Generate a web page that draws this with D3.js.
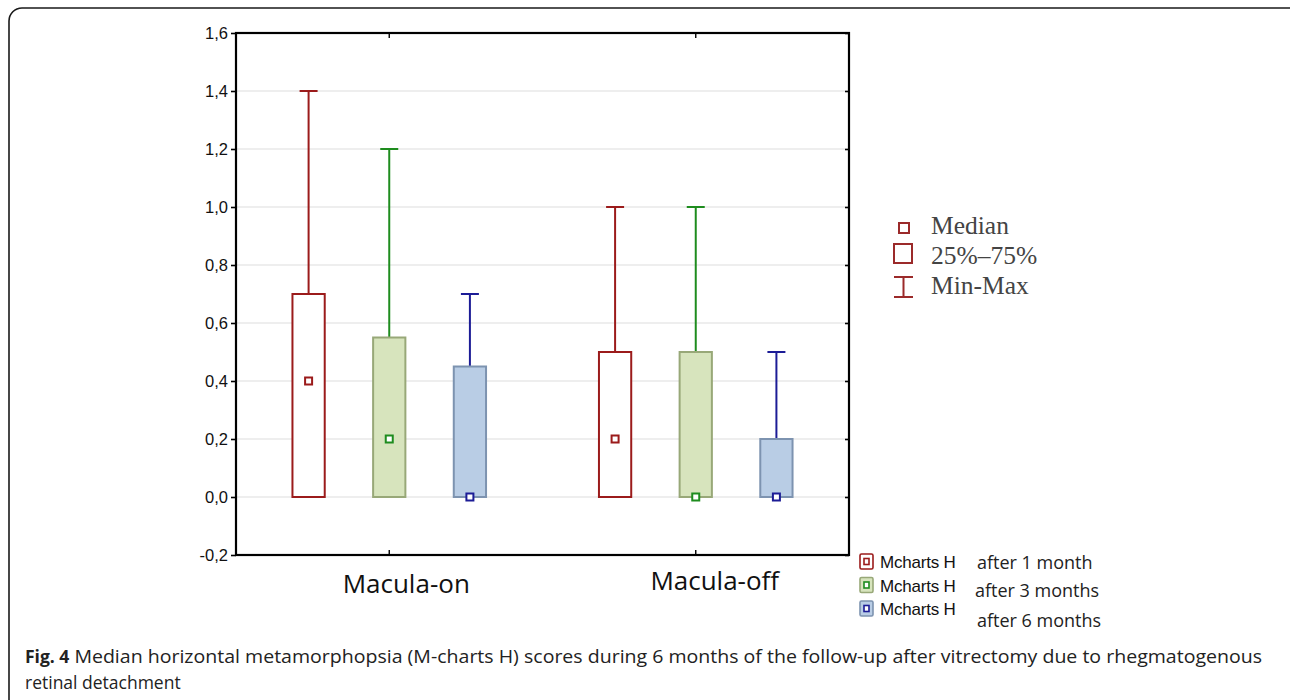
<!DOCTYPE html>
<html>
<head>
<meta charset="utf-8">
<script src="https://cdn.jsdelivr.net/npm/d3@7"></script>
<style>
  html, body { margin: 0; padding: 0; background: #fff; }
  svg { display: block; }
</style>
</head>
<body>
<svg id="chart" width="1290" height="700"></svg>
<script>
// Groups on the x axis and follow-up series drawn inside each group
const groups = ["Macula-on", "Macula-off"];
const seriesNames = ["after 1 month", "after 3 months", "after 6 months"];

// Box statistics per group, one entry per series: [min, q1, median, q3, max]
const maculaOn = [
  [0, 0, 0.4, 0.7, 1.4],
  [0, 0, 0.2, 0.55, 1.2],
  [0, 0, 0.0, 0.45, 0.7]
];
const maculaOff = [
  [0, 0, 0.2, 0.5, 1.0],
  [0, 0, 0.0, 0.5, 1.0],
  [0, 0, 0.0, 0.2, 0.5]
];
const yTicks = [-0.2, 0, 0.2, 0.4, 0.6, 0.8, 1.0, 1.2, 1.4, 1.6];
const statLabels = ["Median", "25%\u201375%", "Min-Max"];

const seriesStyle = [
  { fill: "#ffffff", stroke: "#9b1b1b", whisker: "#9b1b1b", median: "#9b1b1b" },
  { fill: "#d7e4bd", stroke: "#98a878", whisker: "#1e8c1e", median: "#1e8c1e" },
  { fill: "#b9cde5", stroke: "#7d93b0", whisker: "#1c1c96", median: "#1c1c96" }
];

const svg = d3.select("#chart");

// Rounded panel outline around the figure
svg.append("rect")
  .attr("x", 9).attr("y", 8).attr("width", 1300).attr("height", 720)
  .attr("rx", 13).attr("fill", "none").attr("stroke", "#1a1a1a").attr("stroke-width", 1.6);

const plot = { left: 236, right: 849, top: 33, bottom: 555 };

const x = d3.scaleBand().domain(groups).range([plot.left, plot.right]).padding(0);
const xs = d3.scaleBand().domain(seriesNames).range([0, x.bandwidth()]).paddingInner(0.6).paddingOuter(0.7);
const y = d3.scaleLinear().domain([-0.2, 1.6]).range([plot.bottom, plot.top]);
const fmt = v => d3.format(".1f")(v).replace(".", ",").replace("\u2212", "-");

// Horizontal grid
svg.append("g").selectAll("line").data(yTicks.filter(v => v > -0.2 && v < 1.6)).join("line")
  .attr("x1", plot.left).attr("x2", plot.right)
  .attr("y1", d => y(d)).attr("y2", d => y(d))
  .attr("stroke", "#dddddd").attr("stroke-width", 1.2);

// Left axis, ticks outward
const yAxis = d3.axisLeft(y).tickValues(yTicks).tickSize(5).tickPadding(3).tickFormat(fmt);
const gy = svg.append("g").attr("transform", `translate(${plot.left},0)`).call(yAxis);
gy.attr("font-size", null).attr("font-family", null);
gy.select(".domain").remove();
gy.selectAll(".tick line").attr("stroke", "#000").attr("stroke-width", 1.6);
gy.selectAll(".tick text")
  .style("font-family", "'Liberation Sans', Arial, sans-serif")
  .style("font-size", "16.5px").attr("fill", "#111").attr("dy", "0.35em");

// Right axis, ticks inward
const yAxisR = d3.axisRight(y).tickValues(yTicks).tickSize(-4).tickFormat("");
const gyr = svg.append("g").attr("transform", `translate(${plot.right},0)`).call(yAxisR);
gyr.select(".domain").remove();
gyr.selectAll(".tick line").attr("stroke", "#000").attr("stroke-width", 1.6);

// Bottom and top axes with inward ticks at group centres
const xAxisB = d3.axisBottom(x).tickSize(-5).tickFormat("");
const gxb = svg.append("g").attr("transform", `translate(0,${plot.bottom})`).call(xAxisB);
gxb.select(".domain").remove();
gxb.selectAll(".tick line").attr("stroke", "#000").attr("stroke-width", 1.4);
const xAxisT = d3.axisTop(x).tickSize(-5).tickFormat("");
const gxt = svg.append("g").attr("transform", `translate(0,${plot.top})`).call(xAxisT);
gxt.select(".domain").remove();
gxt.selectAll(".tick line").attr("stroke", "#000").attr("stroke-width", 1.4);

// Plot frame
svg.append("rect")
  .attr("x", plot.left).attr("y", plot.top)
  .attr("width", plot.right - plot.left).attr("height", plot.bottom - plot.top)
  .attr("fill", "none").attr("stroke", "#000").attr("stroke-width", 2.2);

// Boxes
const boxW = xs.bandwidth();
const capW = 18;
const groupStats = { "Macula-on": maculaOn, "Macula-off": maculaOff };

groups.forEach(g => {
  groupStats[g].forEach((s, i) => {
    const [mn, q1, med, q3, mx] = s;
    const st = seriesStyle[i];
    const x0 = x(g) + xs(seriesNames[i]);
    const cx = x0 + boxW / 2;
    const gg = svg.append("g");
    // whisker to max with cap
    gg.append("line").attr("x1", cx).attr("x2", cx).attr("y1", y(q3)).attr("y2", y(mx))
      .attr("stroke", st.whisker).attr("stroke-width", 2);
    gg.append("line").attr("x1", cx - capW / 2).attr("x2", cx + capW / 2).attr("y1", y(mx)).attr("y2", y(mx))
      .attr("stroke", st.whisker).attr("stroke-width", 2);
    if (mn < q1) {
      gg.append("line").attr("x1", cx).attr("x2", cx).attr("y1", y(q1)).attr("y2", y(mn))
        .attr("stroke", st.whisker).attr("stroke-width", 2);
      gg.append("line").attr("x1", cx - capW / 2).attr("x2", cx + capW / 2).attr("y1", y(mn)).attr("y2", y(mn))
        .attr("stroke", st.whisker).attr("stroke-width", 2);
    }
    // interquartile box
    gg.append("rect").attr("x", x0).attr("y", y(q3)).attr("width", boxW).attr("height", y(q1) - y(q3))
      .attr("fill", st.fill).attr("stroke", st.stroke).attr("stroke-width", 2);
    // median marker
    gg.append("rect").attr("x", cx - 3.5).attr("y", y(med) - 3.5).attr("width", 7).attr("height", 7)
      .attr("fill", "#fff").attr("stroke", st.median).attr("stroke-width", 2);
  });
});

// Group labels beneath the axis
const labelOffset = { "Macula-on": 17, "Macula-off": 19 };
const labelBase = { "Macula-on": 593, "Macula-off": 590 };
svg.append("g").selectAll("text").data(groups).join("text")
  .attr("x", d => x(d) + x.bandwidth() / 2 + labelOffset[d])
  .attr("y", d => labelBase[d])
  .attr("text-anchor", "middle")
  .style("font-family", "'Open Sans', 'Noto Sans', sans-serif")
  .style("font-size", "26px").attr("fill", "#111")
  .text(d => d);

// Statistic legend
const legRed = "#9b2a2a";
const lg = svg.append("g");
lg.append("rect").attr("x", 899).attr("y", 223).attr("width", 10).attr("height", 10)
  .attr("fill", "#fff").attr("stroke", legRed).attr("stroke-width", 2);
lg.append("rect").attr("x", 894).attr("y", 244).attr("width", 18).attr("height", 19)
  .attr("fill", "#fff").attr("stroke", legRed).attr("stroke-width", 2);
lg.append("path").attr("d", "M894,277H913M903.5,277V297M894,297H913")
  .attr("fill", "none").attr("stroke", legRed).attr("stroke-width", 2);
lg.selectAll("text").data(statLabels).join("text")
  .attr("x", 931).attr("y", (d, i) => 234 + i * 30)
  .style("font-family", "'Liberation Serif', 'DejaVu Serif', serif")
  .style("font-size", "25.5px").attr("fill", "#444")
  .text(d => d);

// Series legend
const sl = svg.append("g");
seriesNames.forEach((name, i) => {
  const st = seriesStyle[i];
  const yy = 554 + i * 23.5;
  sl.append("rect").attr("x", 860).attr("y", yy).attr("width", 13).attr("height", 15).attr("rx", 1.5)
    .attr("fill", st.fill).attr("stroke", st.stroke).attr("stroke-width", 1.6);
  sl.append("rect").attr("x", 864).attr("y", yy + 4.5).attr("width", 5).attr("height", 6)
    .attr("fill", "#fff").attr("stroke", st.median).attr("stroke-width", 1.6);
  sl.append("text").attr("x", 880).attr("y", yy + 14)
    .style("font-family", "'Liberation Sans', Arial, sans-serif").style("font-size", "17px")
    .attr("letter-spacing", -0.2).attr("fill", "#111").text("Mcharts H");
});
const afterPos = [[977, 569], [975, 597], [977, 627]];
sl.selectAll("text.after").data(seriesNames).join("text").attr("class", "after")
  .attr("x", (d, i) => afterPos[i][0]).attr("y", (d, i) => afterPos[i][1])
  .style("font-family", "'Open Sans', 'Noto Sans', sans-serif").style("font-size", "18px").attr("fill", "#222")
  .text(d => d);

// Caption
const cap = svg.append("g")
  .style("font-family", "'Open Sans', 'Noto Sans', sans-serif")
  .style("font-size", "17.5px").attr("fill", "#222");
const figLabel = cap.append("text").attr("x", 25).attr("y", 663).attr("font-weight", "bold").text("Fig. 4");
const figEnd = 25 + figLabel.node().getComputedTextLength();
cap.append("text").attr("x", figEnd + 5).attr("y", 663)
  .attr("textLength", 1262 - figEnd - 5).attr("lengthAdjust", "spacingAndGlyphs")
  .text("Median horizontal metamorphopsia (M-charts H) scores during 6 months of the follow-up after vitrectomy due to rhegmatogenous");
cap.append("text").attr("x", 25).attr("y", 689).text("retinal detachment");
</script>
</body>
</html>
